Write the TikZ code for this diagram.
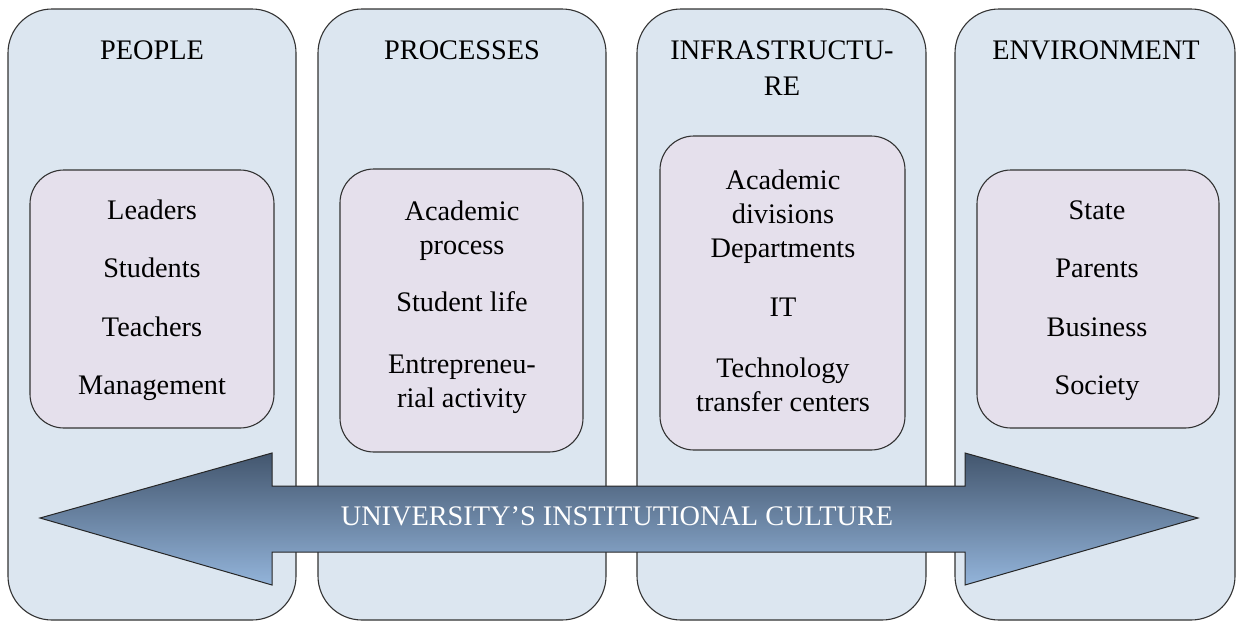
\documentclass[tikz,border=0pt]{standalone}
\usepackage{fontspec}
\setmainfont{Liberation Serif}
\begin{document}
\begin{tikzpicture}[x=1pt,y=-1pt,
  panel/.style={draw=black!80, line width=1.1pt, fill=outerfill, rounded corners=44pt, inner sep=0pt},
  inner/.style={draw=black!80, line width=1.1pt, fill=innerfill, rounded corners=34pt, inner sep=0pt},
  ttl/.style={font=\fontsize{28.3}{36}\selectfont, align=center, inner sep=0pt, anchor=base},
  itm/.style={font=\fontsize{28.3}{34}\selectfont, align=center, inner sep=0pt, anchor=base}]
\definecolor{outerfill}{HTML}{DCE6F0}
\definecolor{innerfill}{HTML}{E5E0EC}
\definecolor{arrtop}{HTML}{43566E}
\definecolor{arrbot}{HTML}{93B4DA}
\useasboundingbox (0,0) rectangle (1237,622);
% panels
\node[panel, minimum width=288pt, minimum height=611pt] (p1) at (152,314.5) {};
\node[panel, minimum width=288pt, minimum height=611pt] (p2) at (462,314.5) {};
\node[panel, minimum width=289pt, minimum height=611pt] (p3) at (781.5,314.5) {};
\node[panel, minimum width=280pt, minimum height=611pt] (p4) at (1095,314.5) {};
% titles
\node[ttl] (t1) at (152,59) {PEOPLE};
\node[ttl] (t2) at (462,59) {PROCESSES};
\node[ttl] (t3) at (782,95) {INFRASTRUCTU-\\RE};
\node[ttl] (t4) at (1096,59) {ENVIRONMENT};
% inner boxes
\node[inner, minimum width=244pt, minimum height=258pt] (b1) at (152,299) {};
\node[inner, minimum width=243pt, minimum height=283pt] (b2) at (461.5,310.5) {};
\node[inner, minimum width=245pt, minimum height=314pt] (b3) at (782.5,293) {};
\node[inner, minimum width=242pt, minimum height=258pt] (b4) at (1098,299) {};
% items
\node[itm] (l1) at (152,219) {Leaders};
\node[itm] (l2) at (152,277) {Students};
\node[itm] (l3) at (152,336) {Teachers};
\node[itm] (l4) at (152,394) {Management};
\node[itm] (m1) at (462,254) {Academic\\process};
\node[itm] (m2) at (462,311) {Student life};
\node[itm] (m3) at (462,407) {Entrepreneu-\\rial activity};
\node[itm] (n1) at (783,257) {Academic\\divisions\\Departments};
\node[itm] (n2) at (783,316) {IT};
\node[itm] (n3) at (783,411) {Technology\\transfer centers};
\node[itm] (e1) at (1097,219) {State};
\node[itm] (e2) at (1097,277) {Parents};
\node[itm] (e3) at (1097,336) {Business};
\node[itm] (e4) at (1097,394) {Society};
% arrow
\coordinate (lt) at (40,518);
\coordinate (rt) at (1198,518);
\draw[line width=1pt, draw=black!85, top color=arrtop, bottom color=arrbot]
  (lt) -- (272,453) -- (272,486) -- (965,486) -- (965,453) -- (rt)
  -- (965,585) -- (965,552) -- (272,552) -- (272,585) -- cycle;
\node[itm, text=white, anchor=center] (at) at (617,516) {UNIVERSITY'S INSTITUTIONAL CULTURE};
\end{tikzpicture}
\end{document}
